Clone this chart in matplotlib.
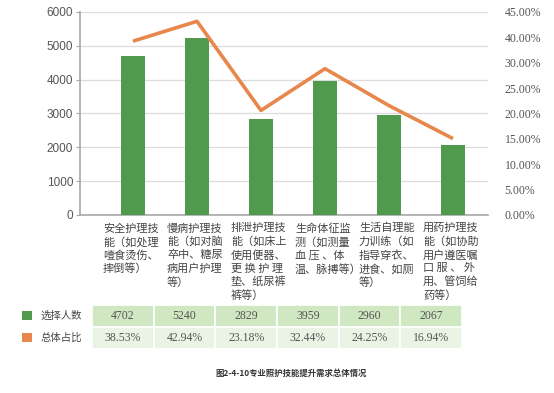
import matplotlib.pyplot as plt
from matplotlib.patches import Rectangle
from matplotlib.transforms import blended_transform_factory
import numpy as np

plt.rcParams['font.family'] = ['Noto Sans CJK SC', 'DejaVu Sans']

categories = [
    '安全护理技\n能（如处理\n噎食烫伤、\n摔倒等）',
    '慢病护理技\n能（如对脑\n卒中、糖尿\n病用户护理\n等）',
    '排泄护理技\n能（如床上\n使用便器、\n更 换 护 理\n垫、纸尿裤\n裤等）',
    '生命体征监\n测（如测量\n血 压 、体\n温、脉搏等）',
    '生活自理能\n力训练（如\n指导穿衣、\n进食、如厕\n等）',
    '用药护理技\n能（如协助\n用户遵医嘱\n口 服 、 外\n用、管饲给\n药等）',
]
counts = [4702, 5240, 2829, 3959, 2960, 2067]
shares = [0.3853, 0.4294, 0.2318, 0.3244, 0.2425, 0.1694]
share_labels = ['38.53%', '42.94%', '23.18%', '32.44%', '24.25%', '16.94%']
right_tick_labels = ['0.00%', '5.00%', '10.00%', '15.00%', '20.00%',
                     '25.00%', '30.00%', '40.00%', '45.00%']
series_names = ['选择人数', '总体占比']

green = '#4f9a4d'
orange = '#e8874c'
W, H = 554, 393

fig = plt.figure(figsize=(W / 100, H / 100), dpi=100)
ax = fig.add_axes([80 / W, 1 - 215 / H, 408 / W, 203 / H])
x = np.arange(len(counts))

ax.bar(x, counts, width=0.375, color=green, zorder=3)
ax.set_xlim(-0.828, 5.547)
ax.set_ylim(0, 6000)
ax.set_yticks(range(0, 6001, 1000))
ax.set_xticks([])
ax.grid(axis='y', color='#dcdcdc', linewidth=0.9, zorder=0)
for s in ['top', 'right']:
    ax.spines[s].set_visible(False)
for s in ['left', 'bottom']:
    ax.spines[s].set_color('#a8a8a8')
    ax.spines[s].set_linewidth(1.2)
ax.tick_params(axis='y', length=3, color='#a8a8a8', labelsize=8.5,
               labelcolor='#555555', pad=2)
for lab in ax.get_yticklabels():
    lab.set_family('Liberation Sans')

ax2 = ax.twinx()
ax2.plot(x, shares, color=orange, linewidth=2.6, solid_capstyle='butt', zorder=4)
ax2.set_ylim(0, 0.45)
ax2.set_yticks(np.linspace(0, 0.45, len(right_tick_labels)))
ax2.set_yticklabels(right_tick_labels, family='Liberation Serif')
ax2.tick_params(axis='y', length=0, labelsize=8.5, labelcolor='#555555', pad=12)
for s in ax2.spines.values():
    s.set_visible(False)

# category labels under the axis
trans = blended_transform_factory(ax.transData, ax.transAxes)
for i, lab in enumerate(categories):
    ax.text(i - 0.47, -0.04, lab, transform=trans, ha='left', va='top',
            fontsize=8, color='#444444', linespacing=1.33)

# data table
tax = fig.add_axes([0, 1 - 349 / H, 462 / W, 44 / H])
tax.set_xlim(-92 / 61.67, 6)
tax.set_ylim(0, 2)
tax.axis('off')
rows = [[str(c) for c in counts], share_labels]
row_colors = ['#cfe8c2', '#eaf4e5']
for r, (vals, fc) in enumerate(zip(rows, row_colors)):
    yb = 1 - r
    for i, v in enumerate(vals):
        tax.add_patch(Rectangle((i, yb), 1, 1, facecolor=fc, edgecolor='white',
                                linewidth=1.2))
        tax.text(i + 0.5, yb + 0.5, v, ha='center', va='center', fontsize=8.5,
                 color='#555555', family='Liberation Serif')
for r, (name, col) in enumerate(zip(series_names, [green, orange])):
    yb = 1 - r
    tax.add_patch(Rectangle((-1.135, yb + 0.3), 0.16, 0.42, facecolor=col,
                            edgecolor='none', clip_on=False))
    tax.text(-0.83, yb + 0.5, name, ha='left', va='center', fontsize=7.5,
             color='#444444')

fig.text(291 / W, 1 - 373 / H, '图2-4-10专业照护技能提升需求总体情况',
         ha='center', va='center', fontsize=6, fontweight='bold', color='#333333')

fig.savefig('out.png', dpi=100)
